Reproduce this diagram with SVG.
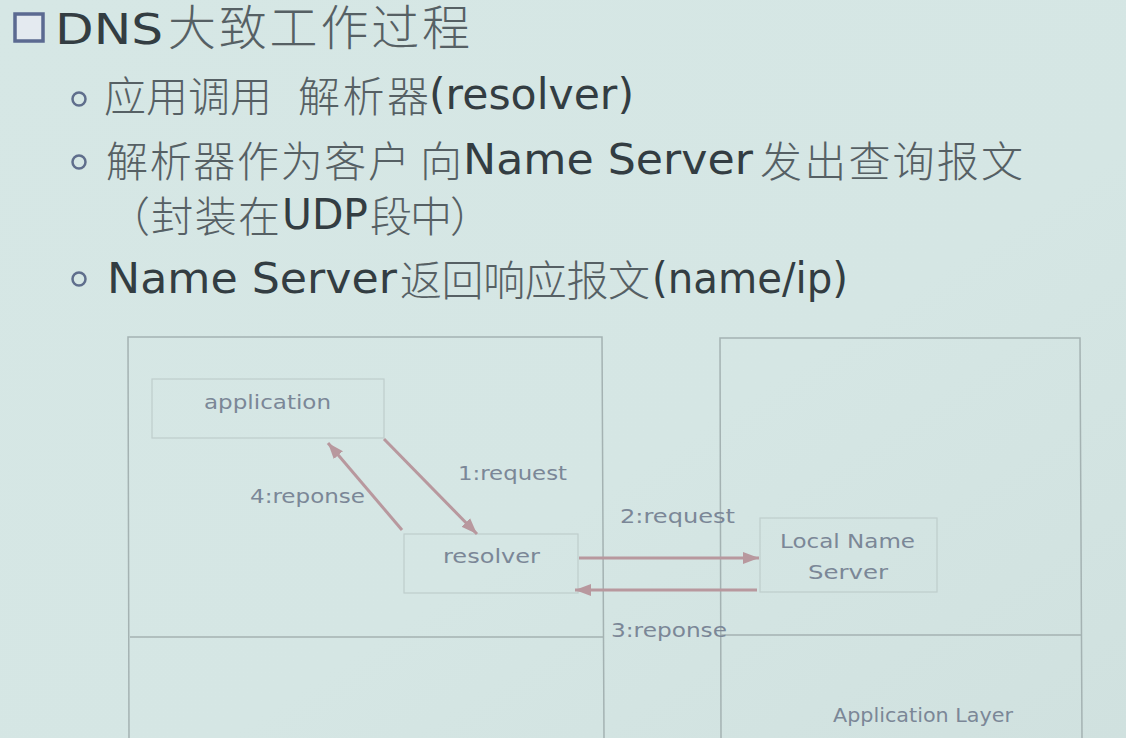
<svg xmlns="http://www.w3.org/2000/svg" width="1126" height="738" viewBox="0 0 1126 738">
  <defs>
    <linearGradient id="bg" x1="0" y1="0" x2="1" y2="1">
      <stop offset="0" stop-color="#d6e7e5"/>
      <stop offset="0.6" stop-color="#d5e6e4"/>
      <stop offset="1" stop-color="#d0e1df"/>
    </linearGradient>
    <marker id="ah" markerUnits="userSpaceOnUse" markerWidth="18" markerHeight="14" refX="16" refY="7" orient="auto">
      <path d="M0,1 L16,7 L0,13 Z" fill="#b8989e"/>
    </marker>
    <style>
      .latin { font-family: "DejaVu Sans", "Liberation Sans", sans-serif; fill: #333d42; }
      .cjk { font-family: "Noto Sans CJK SC", "Noto Sans", sans-serif; fill: #566064; font-weight: 300; }
      .b { font-size: 42px; }
      .frame { fill: none; stroke: #a4b2b2; stroke-width: 1.5; }
      .box { fill: none; stroke: #bfcdcc; stroke-width: 1.2; }
      .lbl { font-family: "DejaVu Sans", "Liberation Sans", sans-serif; font-size: 20px; fill: #7b8797; }
      .conn { stroke: #b8989e; stroke-width: 3; fill: none; marker-end: url(#ah); }
      .bullet { fill: none; stroke: #5f6e8c; stroke-width: 2.5; }
    </style>
  </defs>

  <rect x="0" y="0" width="1126" height="738" fill="url(#bg)"/>

  <g id="title">
    <rect x="15" y="14" width="28" height="27" fill="#e4eaf0" stroke="#5b6a91" stroke-width="3.5"/>
    <text x="55" y="44" class="latin" font-size="43" textLength="108" lengthAdjust="spacingAndGlyphs" fill="#1f2a2f">DNS</text>
    <text x="168" y="45" class="cjk" font-size="48" textLength="302" lengthAdjust="spacing">大致工作过程</text>
  </g>

  <g id="bullets">
    <circle cx="79" cy="99" r="6.5" class="bullet"/>
    <text x="104" y="112" class="cjk b" textLength="168" lengthAdjust="spacing">应用调用</text>
    <text x="298" y="112" class="cjk b" textLength="131" lengthAdjust="spacing">解析器</text>
    <text x="429" y="109" class="latin b" textLength="205" lengthAdjust="spacingAndGlyphs">(resolver)</text>

    <circle cx="79" cy="162" r="6.5" class="bullet"/>
    <text x="106" y="177" class="cjk b" textLength="304" lengthAdjust="spacing">解析器作为客户</text>
    <text x="420" y="177" class="cjk b">向</text>
    <text x="463" y="174" class="latin b" textLength="290" lengthAdjust="spacingAndGlyphs">Name Server</text>
    <text x="760" y="177" class="cjk b" textLength="263" lengthAdjust="spacing">发出查询报文</text>

    <text x="108" y="232" class="cjk b" textLength="172" lengthAdjust="spacing">（封装在</text>
    <text x="282" y="229" class="latin b" textLength="86" lengthAdjust="spacingAndGlyphs">UDP</text>
    <text x="370" y="232" class="cjk b" textLength="122" lengthAdjust="spacing">段中）</text>

    <circle cx="79" cy="279" r="6.5" class="bullet"/>
    <text x="107" y="293" class="latin b" textLength="290" lengthAdjust="spacingAndGlyphs">Name Server</text>
    <text x="400" y="296" class="cjk b" textLength="250" lengthAdjust="spacing">返回响应报文</text>
    <text x="652" y="293" class="latin b" textLength="196" lengthAdjust="spacingAndGlyphs">(name/ip)</text>
  </g>

  <g id="host-frame">
    <path class="frame" d="M129,738 L128,337 L602,337 L604,738"/>
    <line class="frame" x1="130" y1="637" x2="603" y2="637"/>
  </g>

  <g id="server-frame">
    <path class="frame" d="M721,738 L720,338 L1080,338 L1082,738"/>
    <line class="frame" x1="721" y1="635" x2="1082" y2="635"/>
    <text x="833" y="722" class="lbl" font-size="19" textLength="180" lengthAdjust="spacingAndGlyphs">Application Layer</text>
  </g>

  <g id="application">
    <rect class="box" x="152" y="379" width="232" height="59"/>
    <text x="204" y="409" class="lbl" textLength="127" lengthAdjust="spacingAndGlyphs">application</text>
  </g>

  <g id="resolver">
    <rect class="box" x="404" y="534" width="174" height="59"/>
    <text x="443" y="563" class="lbl" textLength="97" lengthAdjust="spacingAndGlyphs">resolver</text>
  </g>

  <g id="local-name-server">
    <rect class="box" x="760" y="518" width="177" height="74"/>
    <text x="780" y="548" class="lbl" textLength="135" lengthAdjust="spacingAndGlyphs">Local Name</text>
    <text x="808" y="579" class="lbl" textLength="80" lengthAdjust="spacingAndGlyphs">Server</text>
  </g>

  <g id="connectors">
    <line class="conn" x1="384" y1="439" x2="477" y2="534"/>
    <text x="458" y="480" class="lbl" textLength="109" lengthAdjust="spacingAndGlyphs">1:request</text>
    <line class="conn" x1="402" y1="530" x2="328" y2="443"/>
    <text x="250" y="503" class="lbl" textLength="115" lengthAdjust="spacingAndGlyphs">4:reponse</text>
    <line class="conn" x1="579" y1="558" x2="759" y2="558"/>
    <text x="620" y="523" class="lbl" textLength="115" lengthAdjust="spacingAndGlyphs">2:request</text>
    <line class="conn" x1="757" y1="590" x2="575" y2="590"/>
    <text x="611" y="637" class="lbl" textLength="116" lengthAdjust="spacingAndGlyphs">3:reponse</text>
  </g>
</svg>
